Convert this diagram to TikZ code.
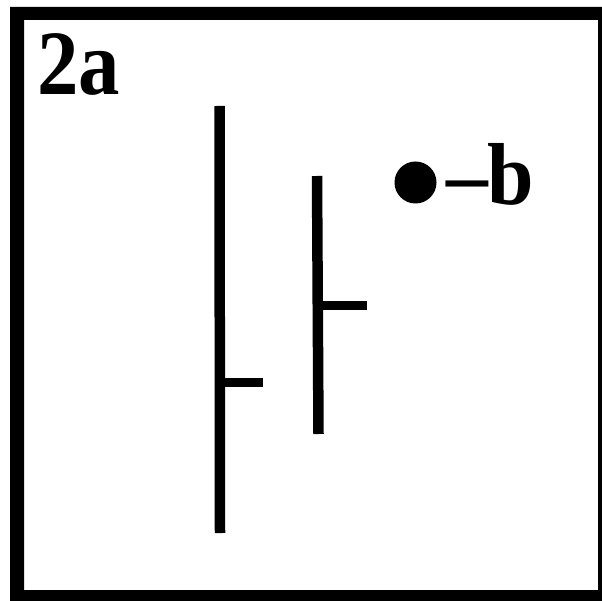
\documentclass[tikz,border=0pt]{standalone}
\usepackage{fontspec}
\setmainfont{Liberation Serif}
\usepackage{tikz}

\begin{document}
\begin{tikzpicture}[x=1pt, y=-1pt,
    bar/.style={line width=10.5pt},
    tick/.style={line width=9pt},
    label/.style={inner sep=0pt, anchor=base west, font=\bfseries\fontsize{88}{88}\selectfont}]
    \useasboundingbox (0,0) rectangle (602,601);
    % frame
    \fill[black, even odd rule] (10,7) rectangle (606,606) (24,20) rectangle (598,590);
    \node[label, font=\bfseries\fontsize{92}{92}\selectfont, xscale=0.9] (title) at (37,95) {2a};
    % vertical bars with side ticks
    \coordinate (l1) at (219.5,106);
    \coordinate (l2) at (220,533);
    \coordinate (l3) at (317,176);
    \coordinate (l4) at (318.5,434);
    \draw[bar] (l1) -- (l2);
    \draw[bar] (l3) -- (l4);
    \coordinate (t1) at (263,382.5);
    \coordinate (t2) at (367,306);
    \draw[tick] (220,382.5) -- (t1);
    \draw[tick] (318,306) -- (t2);
    % dot with letter
    \node[circle, fill=black, minimum size=42pt, inner sep=0pt] (dot) at (415.5,182.5) {};
    \node[label, xscale=0.95] (b) at (446,205) {--b};
\end{tikzpicture}
\end{document}
